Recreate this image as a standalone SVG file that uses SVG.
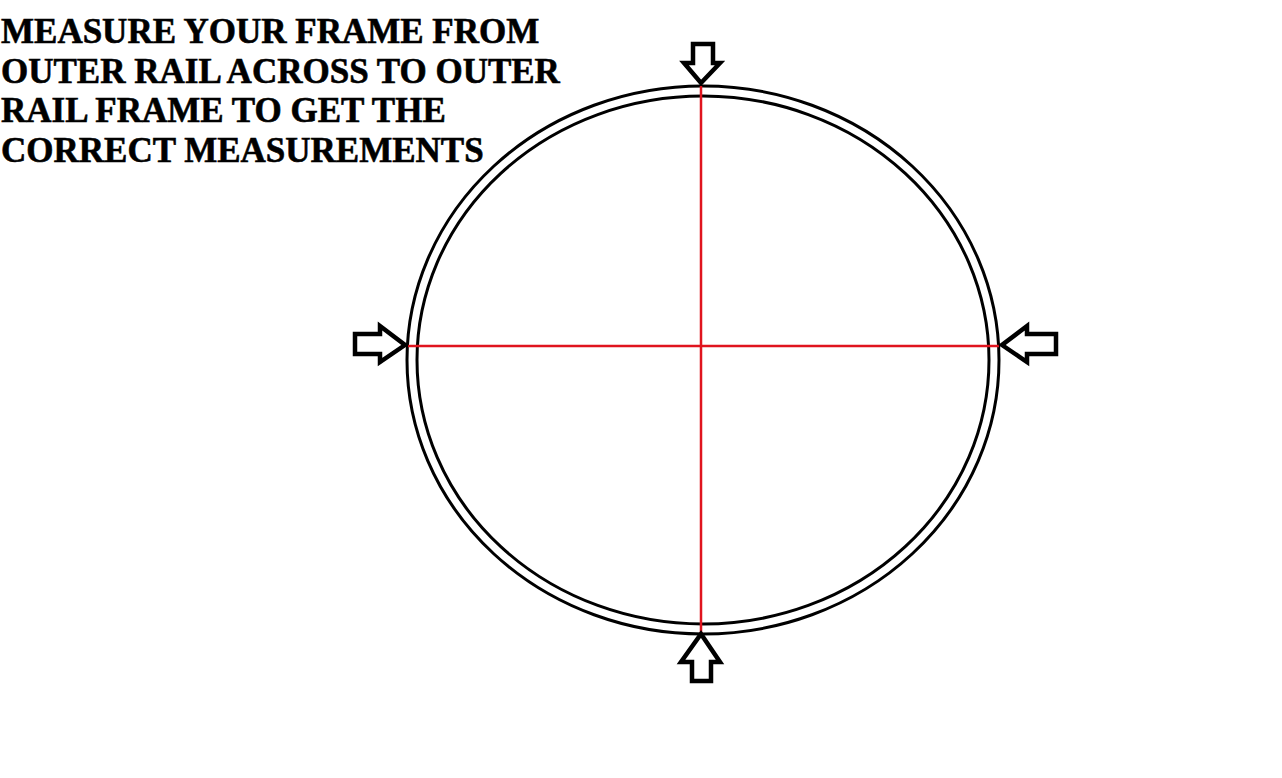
<svg xmlns="http://www.w3.org/2000/svg" width="1282" height="778" viewBox="0 0 1282 778">
<style>
.rim{fill:none;stroke:#000;stroke-width:3}
.arr{fill:#fff;stroke:#000;stroke-width:4.5;stroke-linejoin:miter}
.red{stroke:#e0141e;stroke-width:2.5}
.t{font-family:"Liberation Serif","Times New Roman",serif;font-weight:bold;font-size:35px;fill:#000;stroke:#000;stroke-width:0.6}
</style>
<rect width="1282" height="778" fill="#fff"/>
<g id="frame">
<ellipse class="rim" cx="703" cy="360" rx="296" ry="274"/>
<ellipse class="rim" cx="703" cy="360" rx="286" ry="264"/>
</g>
<g id="connectors">
<line class="red" x1="408" y1="346" x2="999" y2="346"/>
<line class="red" x1="701" y1="86" x2="701" y2="633"/>
</g>
<g id="arrow-top"><polygon class="arr" points="693,44 713,44 713,63 720,63 701,83 684,63 693,63"/></g>
<g id="arrow-bottom"><polygon class="arr" points="692,681 711,681 711,662 720,662 701,634 681,662 692,662"/></g>
<g id="arrow-left"><polygon class="arr" points="355,334 380,334 380,326 405,345 380,362 380,354 355,354"/></g>
<g id="arrow-right"><polygon class="arr" points="1056,334 1027,334 1027,326 1002,345 1027,362 1027,354 1056,354"/></g>
<g id="label">
<text class="t" x="1" y="43">MEASURE YOUR FRAME FROM</text>
<text class="t" x="1" y="83">OUTER RAIL ACROSS TO OUTER</text>
<text class="t" x="1" y="122">RAIL FRAME TO GET THE</text>
<text class="t" x="1" y="162">CORRECT MEASUREMENTS</text>
</g>
</svg>
